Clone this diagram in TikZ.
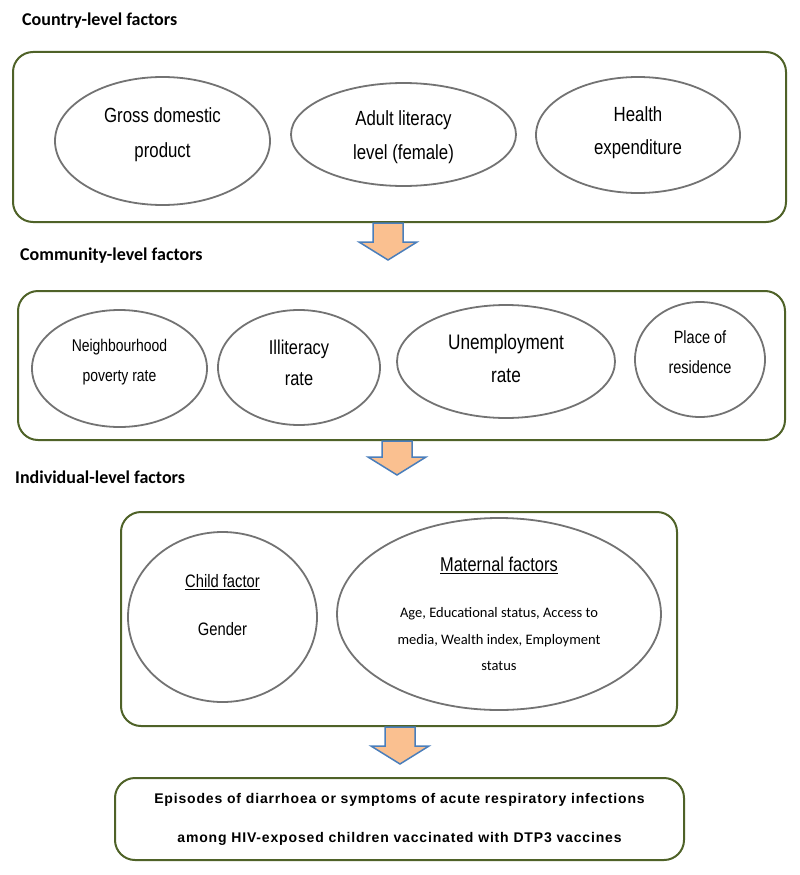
\documentclass[tikz,border=0pt]{standalone}
\usepackage{fontspec}
\setmainfont{Carlito}
\newfontfamily\narrowfont[FakeStretch=0.82]{Liberation Sans}
\newfontfamily\spacedfont[LetterSpace=6]{Liberation Sans}
\usetikzlibrary{shapes.geometric,calc}

\definecolor{boxgreen}{HTML}{4F6228}
\definecolor{ringgray}{HTML}{737373}
\definecolor{arrowfill}{HTML}{FAC090}
\definecolor{arrowblue}{HTML}{4A7EBB}

\tikzset{
  leveltitle/.style={anchor=west, inner sep=0, font=\fontsize{18}{21}\selectfont\bfseries},
  levelbox/.style={draw=boxgreen, line width=2, rounded corners=20, inner sep=0},
  factor/.style={ellipse, draw=ringgray, line width=1.8, inner sep=0, align=center,
    font=\narrowfont\fontsize{20.5}{24}\selectfont},
  flowarrow/.style={draw=arrowblue, fill=arrowfill, line width=1.5, line join=miter},
}

% block arrow from a box edge (#1) down to its tip (#2)
\newcommand{\flowarrow}[2]{%
  \draw[flowarrow] ($(#1)+(-15,0)$) -- ($(#2)+(-15,-18)$) -- ($(#2)+(-29,-18)$) -- (#2)
    -- ($(#2)+(29,-18)$) -- ($(#2)+(15,-18)$) -- ($(#1)+(15,0)$) -- cycle;}
% pushes the text of an ellipse up by half the given depth
\newcommand{\lift}[1]{\rule[-#1pt]{0pt}{#1pt}}
\newcommand{\listtext}{\rmfamily\fontsize{14.5}{17}\selectfont}

\begin{document}
\begin{tikzpicture}[x=1pt, y=-1pt]
  \useasboundingbox (0,0) rectangle (800,875);

  % country level
  \node[leveltitle] (countrytitle) at (22,21) {Country-level factors};
  \node[levelbox, minimum width=773, minimum height=170] (country) at (399.5,137) {};
  \node[factor, minimum width=215, minimum height=128] (gdp) at (162.5,141)
    {Gross domestic\\[11pt]product\lift{17}};
  \node[factor, minimum width=225, minimum height=103] (literacy) at (403.5,134.5)
    {\rule{0pt}{20pt}Adult literacy\\[10pt]level (female)};
  \node[factor, minimum width=204, minimum height=116] (health) at (638,135)
    {Health\\[9pt]expenditure\lift{9}};

  \coordinate (tipone) at (388,260);
  \flowarrow{country.south -| tipone}{tipone}

  % community level
  \node[leveltitle] (communitytitle) at (20,256) {Community-level factors};
  \node[levelbox, minimum width=767, minimum height=149] (community) at (401.5,365.5) {};
  \node[factor, minimum width=175, minimum height=117, font=\narrowfont\fontsize{17}{20}\selectfont]
    (poverty) at (119.5,368.5) {Neighbourhood\\[10pt]poverty rate\lift{17}};
  \node[factor, minimum width=162, minimum height=115, font=\narrowfont\fontsize{20}{24}\selectfont]
    (illiteracy) at (299,367.5) {Illiteracy\\[7pt]rate\lift{10}};
  \node[factor, minimum width=218, minimum height=113, font=\narrowfont\fontsize{21}{24}\selectfont]
    (unemployment) at (506,361.5) {Unemployment\\[9pt]rate\lift{6}};
  \node[factor, minimum width=130, minimum height=115, font=\narrowfont\fontsize{17.7}{21}\selectfont]
    (residence) at (700,359.5) {Place of\\[9pt]residence\lift{15}};

  \coordinate (tiptwo) at (397,475);
  \flowarrow{community.south -| tiptwo}{tiptwo}

  % individual level
  \node[leveltitle] (individualtitle) at (15,477) {Individual-level factors};
  \node[levelbox, minimum width=556, minimum height=214] (individual) at (399,619) {};
  \node[factor, minimum width=189, minimum height=170, font=\narrowfont\fontsize{18}{21}\selectfont]
    (child) at (222.5,617) {\underline{Child factor}\\[27pt]Gender\lift{24}};
  \node[factor, minimum width=324, minimum height=192, font=\narrowfont\fontsize{20}{24}\selectfont]
    (maternal) at (499,614)
    {\underline{Maternal factors}\\[22pt]
     \listtext Age, Educational status, Access to\\[2.5pt]
     \listtext media, Wealth index, Employment\\[2.5pt]
     \listtext status};

  \coordinate (tipthree) at (400,764);
  \flowarrow{individual.south -| tipthree}{tipthree}

  % outcome
  \node[levelbox, minimum width=569, minimum height=82, align=center,
    font=\spacedfont\bfseries\fontsize{14}{39}\selectfont] (outcome) at (399.5,819)
    {Episodes of diarrhoea or symptoms of acute respiratory infections\\
     among HIV-exposed children vaccinated with DTP3 vaccines};
\end{tikzpicture}
\end{document}
